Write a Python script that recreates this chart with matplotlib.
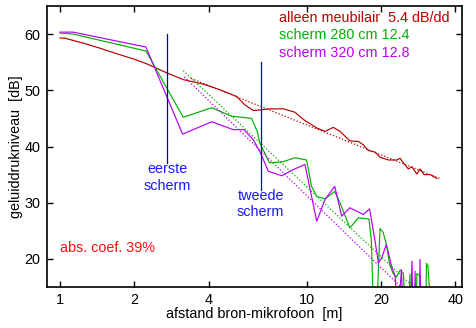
import matplotlib
matplotlib.use('Agg')
import matplotlib.pyplot as plt
from matplotlib.ticker import FixedLocator, FixedFormatter, NullLocator

plt.rcParams['font.family'] = ['Liberation Sans', 'DejaVu Sans']

# alleen meubilair
red_x = [1.00, 1.04, 1.24, 1.45, 1.70, 1.98, 2.25, 2.71, 3.16, 3.81, 4.45, 5.20, 5.62,
         6.07, 6.46, 7.10, 8.04, 8.96, 9.70, 10.98, 11.87, 12.82, 13.64, 14.96, 16.18,
         16.96, 17.77, 18.92, 19.82, 21.43, 23.17, 23.90, 24.65, 25.83, 26.67, 27.95,
         28.83, 29.93, 31.66, 33.69]
red_y = [59.3, 59.3, 58.4, 57.5, 56.5, 55.6, 54.7, 53.1, 51.9, 51.1, 50.1, 48.9, 47.4,
         46.4, 46.5, 46.7, 46.7, 46.1, 44.8, 43.3, 42.7, 43.4, 42.7, 41.0, 40.9,
         40.3, 39.3, 39.0, 38.1, 37.6, 37.6, 37.9, 37.1, 36.0, 36.4, 35.1,
         36.0, 35.0, 35.0, 34.3]

# scherm 280 cm
green_x = [1.00, 1.13, 2.23, 3.16, 4.12, 4.96, 5.98, 6.30, 6.46, 7.06, 8.04, 8.96, 9.99,
           10.46, 11.00, 11.87, 12.99, 13.64, 14.96, 16.18, 17.87, 18.27, 18.68, 19.20,
           19.82, 20.41, 21.03, 21.68, 22.35, 23.06, 23.90, 24.65, 25.03, 25.90, 26.20,
           26.50, 27.80, 27.95, 28.80, 29.10, 30.30, 30.60, 31.00, 32.00]
green_y = [60.2, 60.0, 57.0, 45.2, 46.9, 45.4, 45.0, 42.7, 40.6, 37.1, 37.3, 38.0, 37.6,
           32.9, 31.1, 30.7, 32.0, 30.0, 25.5, 27.3, 27.1, 23.5, 10.0, 10.0,
           25.4, 24.7, 22.6, 19.0, 17.5, 16.7, 18.0, 17.5, 10.0, 10.0, 17.3,
           10.0, 10.0, 17.4, 17.0, 10.0, 10.0, 19.2, 18.7, 10.0]

# scherm 320 cm
mag_x = [1.00, 1.13, 2.23, 3.14, 4.12, 5.04, 5.57, 6.07, 6.46, 6.99, 7.92, 8.83, 9.84,
         10.98, 11.87, 12.99, 13.86, 14.96, 15.93, 16.96, 17.98, 18.92, 19.53, 20.15,
         21.03, 22.08, 22.80, 23.50, 24.20, 24.60, 26.40, 26.70, 27.00, 27.30, 27.50,
         27.70, 28.60, 28.80, 29.00]
mag_y = [60.35, 60.35, 57.7, 42.2, 44.4, 43.0, 43.0, 41.2, 39.1, 35.6, 34.8, 35.9, 36.8,
         26.7, 30.6, 32.9, 27.6, 29.1, 28.5, 27.9, 28.9, 23.2, 19.3, 20.2,
         22.6, 18.7, 16.9, 10.0, 18.1, 10.0, 10.0, 19.6, 10.0, 10.0, 17.8,
         10.0, 10.0, 19.9, 10.0]

# regressielijnen (eindpunten)
red_fit_x, red_fit_y = [3.40, 34.7], [52.1, 34.3]
green_fit_x, green_fit_y = [3.16, 26.3], [53.5, 15.5]
mag_fit_x, mag_fit_y = [3.19, 24.1], [52.4, 15.0]

xticks = [1, 2, 4, 10, 20, 40]
yticks = [20, 30, 40, 50, 60]

RED = '#b40000'
GREEN = '#00b000'
MAG = '#b400f0'
FS = 10.4

fig = plt.figure(figsize=(4.77, 3.28), dpi=100)
ax = fig.add_axes([47 / 477, 41 / 328, 415 / 477, 281 / 328])
ax.set_xscale('log')
ax.set_xlim(0.886, 42.6)
ax.set_ylim(15, 65)

ax.plot(red_x, red_y, color=RED, lw=0.85)
ax.plot(green_x, green_y, color=GREEN, lw=0.85)
ax.plot(mag_x, mag_y, color=MAG, lw=0.85)
ax.plot(red_fit_x, red_fit_y, color=RED, lw=0.9, ls=(0, (1, 1.6)))
ax.plot(green_fit_x, green_fit_y, color=GREEN, lw=0.9, ls=(0, (1, 1.6)))
ax.plot(mag_fit_x, mag_fit_y, color=MAG, lw=0.9, ls=(0, (1, 1.6)))

# schermposities
ax.plot([2.72, 2.72], [60, 37.1], color='#0000b0', lw=0.9)
ax.plot([6.51, 6.51], [55, 32.2], color='#0000ff', lw=0.9)
ax.text(2.72, 34.5, 'eerste\nscherm', color='#1a1aff', fontsize=FS,
        ha='center', va='center', multialignment='center')
ax.text(6.51, 29.8, 'tweede\nscherm', color='#1a1aff', fontsize=FS,
        ha='center', va='center', multialignment='center')

ax.text(1.0, 21.2, 'abs. coef. 39%', color='#ff1010', fontsize=FS, va='baseline')
ax.text(0.560, 0.944, 'alleen meubilair  5.4 dB/dd', color='#c00000', fontsize=FS,
        transform=ax.transAxes, va='baseline')
ax.text(0.560, 0.883, 'scherm 280 cm 12.4', color='#00b000', fontsize=FS,
        transform=ax.transAxes, va='baseline')
ax.text(0.560, 0.817, 'scherm 320 cm 12.8', color='#c000f0', fontsize=FS,
        transform=ax.transAxes, va='baseline')

ax.xaxis.set_major_locator(FixedLocator(xticks))
ax.xaxis.set_major_formatter(FixedFormatter([str(t) for t in xticks]))
ax.xaxis.set_minor_locator(NullLocator())
ax.set_yticks(yticks)
ax.tick_params(direction='in', length=4, width=1, top=True, right=True, labelsize=FS)
ax.tick_params(axis='x', pad=4)
ax.tick_params(axis='y', pad=5)
for s in ax.spines.values():
    s.set_linewidth(1.2)

fig.text(16 / 477, 0.553, 'geluiddrukniveau  [dB]', rotation=90, fontsize=FS,
         ha='center', va='center')
fig.text(254 / 477, 0.044, 'afstand bron-mikrofoon  [m]', fontsize=FS,
         ha='center', va='center')

fig.savefig('out.png', dpi=100)
